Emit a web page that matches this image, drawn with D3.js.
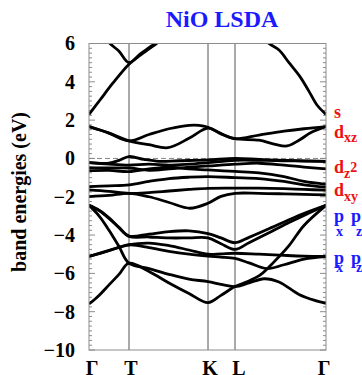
<!DOCTYPE html>
<html><head><meta charset="utf-8">
<script src="https://d3js.org/d3.v7.min.js"></script>
<style>body{margin:0;background:#fff} svg{display:block}</style>
</head><body><svg id="c" width="362" height="375"></svg>
<script>
const title = "NiO LSDA";
const yLabel = "band energies (eV)";
const kSym = [0, 40, 119, 146, 237];
const kLabels = ["Γ", "T", "K", "L", "Γ"];
const yTicks = [6, 4, 2, 0, -2, -4, -6, -8, -10];

// conduction (s-like) bands
const sBand1 = [[0,2.3],[11,3.05],[24,3.94],[40,4.92],[51,5.38],[60,5.72],[68,6.02],[76,6.4]];
const sBand2 = [[14,6.5],[21,6.0],[30,5.6],[40,5.0],[51,5.45],[60,5.78],[68,6.08],[76,6.45]];
const sBand3 = [[172,6.5],[180,6.0],[190,5.66],[200,5.0],[211,4.27],[220,3.5],[228,2.79],[237,2.3]];
// unoccupied e_g (d_xz) bands
const eg1 = [[0,1.66],[20,1.32],[40,0.92],[60,1.25],[80,1.55],[100,1.73],[110,1.73],[119,1.63],[132,1.3],[146,1.03],[170,1.22],[195,1.42],[215,1.55],[237,1.66]];
const eg2 = [[0,1.66],[20,1.32],[40,0.92],[60,0.72],[79,0.56],[100,1.05],[119,1.58],[132,1.28],[146,1.03],[170,0.95],[185,0.75],[198,0.65],[210,0.95],[222,1.35],[237,1.66]];
// occupied d bands
const dBand1 = [[0,-0.22],[20,-0.25],[30,-0.1],[40,0.1],[55,-0.05],[70,-0.15],[90,-0.12],[119,-0.08],[146,0.0],[170,-0.05],[195,-0.1],[215,-0.13],[237,-0.15]];
const dBand2 = [[0,-0.22],[20,-0.3],[40,-0.35],[60,-0.3],[80,-0.35],[100,-0.3],[119,-0.22],[146,-0.1],[170,-0.1],[195,-0.12],[215,-0.14],[237,-0.15]];
const dBand3 = [[0,-0.48],[20,-0.5],[40,-0.5],[60,-0.62],[80,-0.55],[100,-0.45],[119,-0.39],[146,-0.3],[170,-0.25],[195,-0.35],[215,-0.45],[237,-0.55]];
const dBand4 = [[0,-0.64],[20,-0.62],[40,-0.69],[60,-0.55],[80,-0.45],[100,-0.55],[119,-0.6],[146,-0.68],[170,-0.75],[195,-0.95],[215,-1.2],[237,-1.35]];
const dBand5 = [[0,-1.47],[20,-1.43],[40,-1.38],[60,-1.2],[80,-1.05],[100,-0.98],[119,-0.95],[146,-1.0],[170,-1.05],[195,-1.2],[215,-1.38],[237,-1.5]];
const dBand6 = [[0,-1.64],[20,-1.72],[40,-1.82],[60,-1.78],[80,-1.7],[100,-1.62],[119,-1.56],[146,-1.55],[170,-1.55],[195,-1.58],[215,-1.62],[237,-1.65]];
const dBand7 = [[0,-1.99],[20,-1.93],[40,-1.82],[60,-2.0],[80,-2.3],[101,-2.6],[119,-2.34],[132,-1.98],[146,-1.82],[170,-1.82],[195,-1.85],[215,-1.88],[237,-1.9]];
// O p bands
const pBand1 = [[0,-2.45],[10,-2.7],[20,-3.1],[30,-3.6],[40,-4.05],[60,-3.95],[80,-3.82],[100,-3.78],[119,-3.92],[132,-4.15],[146,-4.4],[160,-4.12],[183,-3.6],[200,-3.2],[216,-2.85],[237,-2.45]];
const pBand2 = [[0,-2.45],[10,-2.72],[20,-3.13],[30,-3.62],[40,-4.07],[60,-4.1],[80,-4.15],[100,-4.15],[119,-4.15],[132,-4.45],[146,-4.75],[160,-4.4],[183,-3.8],[200,-3.35],[216,-2.95],[237,-2.45]];
const pBand3 = [[0,-5.12],[20,-4.8],[40,-4.5],[60,-4.42],[80,-4.55],[100,-4.78],[119,-5.0],[132,-4.98],[146,-4.95],[170,-5.0],[195,-5.06],[215,-5.1],[237,-5.12]];
const pBand4 = [[0,-5.12],[20,-4.82],[40,-4.52],[60,-4.65],[80,-4.85],[100,-5.0],[119,-5.1],[132,-5.15],[146,-5.22],[160,-5.45],[178,-5.75],[195,-5.55],[215,-5.25],[237,-5.12]];
const pBand5 = [[0,-2.45],[10,-3.0],[20,-3.75],[30,-4.6],[40,-5.47],[60,-5.75],[80,-6.05],[100,-6.3],[119,-6.43],[132,-6.58],[146,-6.69],[160,-6.5],[175,-6.28],[190,-6.45],[210,-7.1],[225,-7.4],[237,-7.56]];
const pBand6 = [[0,-7.6],[10,-7.15],[20,-6.6],[30,-6.05],[40,-5.47],[60,-5.9],[80,-6.5],[100,-7.05],[119,-7.53],[132,-7.15],[146,-6.69],[160,-6.4],[172,-6.05],[185,-5.4],[200,-4.55],[215,-3.5],[237,-2.45]];

const allBands = [sBand1, sBand2, sBand3, eg1, eg2, dBand1, dBand2, dBand3, dBand4, dBand5, dBand6, dBand7, pBand1, pBand2, pBand3, pBand4, pBand5, pBand6];

const svg = d3.select("#c");
const L = 89, R = 326, T = 43.5, B = 350;
const x = d3.scaleLinear().domain([0, 237]).range([L, R]);
const y = d3.scaleLinear().domain([-10, 6]).range([B, T]);
const serif = "'Liberation Serif','Times New Roman',serif";

svg.append("defs").append("clipPath").attr("id", "clip")
  .append("rect").attr("x", L).attr("y", T).attr("width", R - L).attr("height", B - T);

svg.append("text").attr("x", 222).attr("y", 27).attr("text-anchor", "middle")
  .attr("font-family", serif).attr("font-weight", "bold").attr("font-size", 24)
  .attr("fill", "#1a1aff").text(title);

svg.append("text").attr("transform", "translate(26,192) rotate(-90)")
  .attr("text-anchor", "middle").attr("font-family", serif).attr("font-weight", "bold")
  .attr("font-size", 20).attr("fill", "#000").text(yLabel);

const minor = d3.range(-10, 6.001, 0.25);
const tg = svg.append("g").attr("stroke", "#8c8c8c").attr("stroke-width", 1);
minor.forEach(v => {
  const len = (Math.abs(v % 2) < 1e-6) ? 6 : 3;
  tg.append("line").attr("x1", L).attr("x2", L + len).attr("y1", y(v)).attr("y2", y(v));
  tg.append("line").attr("x1", R).attr("x2", R - len).attr("y1", y(v)).attr("y2", y(v));
});

const yAxis = d3.axisLeft(y).tickValues(yTicks).tickSize(0).tickPadding(14)
  .tickFormat(d => d < 0 ? "\u2212" + Math.abs(d) : String(d));
const ya = svg.append("g").attr("transform", `translate(${L},0)`).call(yAxis);
ya.select(".domain").remove();
ya.selectAll("text").attr("font-family", serif).attr("font-weight", "bold")
  .attr("font-size", 20).attr("fill", "#000");

svg.append("g").selectAll("line").data(kSym.slice(1, -1)).join("line")
  .attr("x1", d => x(d)).attr("x2", d => x(d)).attr("y1", T).attr("y2", B)
  .attr("stroke", "#555").attr("stroke-width", 1);

svg.append("line").attr("x1", L).attr("x2", R).attr("y1", y(0)).attr("y2", y(0))
  .attr("stroke", "#888").attr("stroke-width", 1).attr("stroke-dasharray", "5,3");

const line = d3.line().x(d => x(d[0])).y(d => y(d[1])).curve(d3.curveCatmullRom.alpha(0.5));
svg.append("g").attr("clip-path", "url(#clip)").selectAll("path").data(allBands).join("path")
  .attr("d", line).attr("fill", "none").attr("stroke", "#000").attr("stroke-width", 2.8)
  .attr("stroke-linejoin", "round");

svg.append("rect").attr("x", L).attr("y", T).attr("width", R - L).attr("height", B - T)
  .attr("fill", "none").attr("stroke", "#8c8c8c").attr("stroke-width", 1);

const xOff = [3, 2, 2, 4, -2];
svg.append("g").selectAll("text").data(kSym).join("text")
  .attr("x", (d, i) => x(d) + xOff[i]).attr("y", 375).attr("text-anchor", "middle")
  .attr("font-family", serif).attr("font-weight", "bold").attr("font-size", 20)
  .text((d, i) => kLabels[i]);

const red = "#ee1111", blue = "#1a1aff";
function lab(yy, col, parts) {
  const t = svg.append("text").attr("x", 334).attr("y", yy).attr("font-family", serif)
    .attr("font-weight", "bold").attr("fill", col).attr("font-size", 18);
  parts.forEach(p => {
    const s = t.append("tspan").text(p.t);
    if (p.fs) s.attr("font-size", p.fs);
    if (p.dy) s.attr("dy", p.dy);
    if (p.x !== undefined) s.attr("x", p.x);
  });
}
lab(118, red, [{t: "s"}]);
lab(138, red, [{t: "d"}, {t: "xz", fs: 14, dy: 4}]);
lab(173, red, [{t: "d"}, {t: "z", fs: 14, dy: 5}, {t: "2", fs: 14, dy: -6}]);
lab(196, red, [{t: "d"}, {t: "xy", fs: 14, dy: 5}]);
lab(222, blue, [{t: "p"}, {t: "x", fs: 14, x: 336, dy: 14}, {t: "p", x: 351, dy: -14}, {t: "z", fs: 14, x: 356, dy: 14}]);
lab(264, blue, [{t: "p"}, {t: "x", fs: 14, x: 336, dy: 8}, {t: "p", x: 351, dy: -8}, {t: "z", fs: 14, x: 356, dy: 8}]);
</script></body></html>
